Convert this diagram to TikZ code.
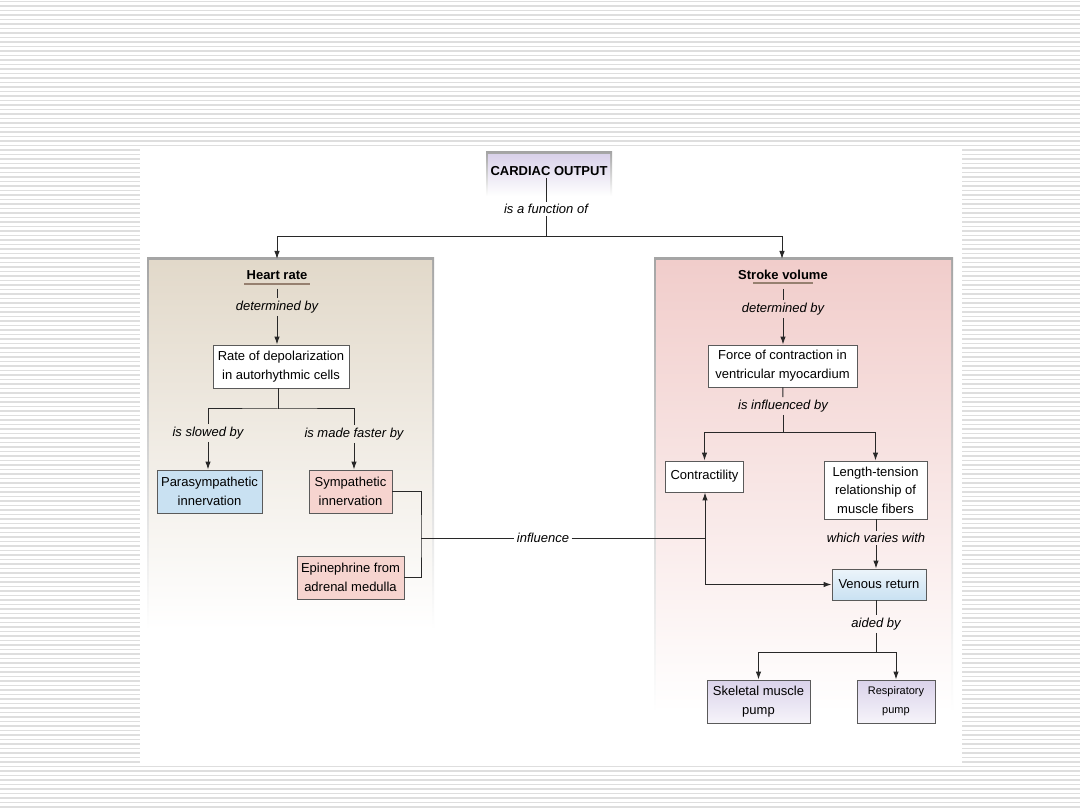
\documentclass[tikz,border=0pt]{standalone}
\usepackage{fontspec}
\setmainfont{Liberation Sans}
\usetikzlibrary{arrows.meta}

\definecolor{cardioLine}{RGB}{40,40,40}
\definecolor{cardioEdge}{RGB}{90,90,90}
\definecolor{cardioFrame}{RGB}{165,165,165}
\definecolor{cardioStripe}{RGB}{222,222,222}
\definecolor{cardioRateTint}{RGB}{226,217,202}
\definecolor{cardioStrokeTint}{RGB}{241,205,203}
\definecolor{cardioBlue}{RGB}{201,225,242}
\definecolor{cardioPink}{RGB}{246,212,207}
\definecolor{cardioLilac}{RGB}{218,210,234}
\definecolor{cardioUnder}{RGB}{150,128,112}

\begin{document}
\begin{tikzpicture}[x=1pt,y=-1pt,
    title/.style={font=\fontsize{13}{15}\selectfont\bfseries, inner sep=2pt},
    verb/.style={font=\fontsize{13}{15}\selectfont\itshape, inner sep=2.5pt},
    box/.style={draw=cardioEdge, line width=.9pt, align=center, inner sep=0pt,
      font=\fontsize{13}{19}\selectfont},
    plain/.style={box, fill=white},
    link/.style={draw=cardioLine, line width=1pt},
    arrow/.style={link, -{Latex[length=8pt,width=5.5pt]}},
    underline/.style={draw=cardioUnder, line width=1.6pt}]
    \useasboundingbox (0,0) rectangle (1080,810);

    \fill[white] (0,0) rectangle (1080,810);
    \foreach \y in {1.5,6,...,810}
      \draw[cardioStripe, line width=1.3pt] (0,\y) -- (1080,\y);
    \fill[white] (140,146) rectangle (962,764);

    \shade[top color=cardioFrame, bottom color=white] (147,258) rectangle (434,630);
    \shade[top color=cardioRateTint, middle color=cardioRateTint!65!white,
      bottom color=white] (149,261) rectangle (432,630);
    \shade[top color=cardioFrame, bottom color=white] (654,258) rectangle (953,712);
    \shade[top color=cardioStrokeTint, middle color=cardioStrokeTint!65!white,
      bottom color=white] (656,261) rectangle (951,712);
    \shade[top color=cardioFrame, bottom color=white] (486,152) rectangle (612,196);
    \shade[top color=cardioLilac, bottom color=white] (488,155) rectangle (610,196);

    \node[title] (co) at (549,171) {CARDIAC OUTPUT};
    \node[verb] (fn) at (546,209) {is a function of};
    \coordinate (split) at (546,237);
    \coordinate (hrtop) at (277,259);
    \coordinate (svtop) at (782,259);
    \draw[link] (co.south -| fn) -- (fn);
    \draw[link] (fn) -- (split);
    \draw[arrow] (split) -| (hrtop);
    \draw[arrow] (split) -| (svtop);

    \node[title] (hr) at (277,275) {Heart rate};
    \draw[underline] ([yshift=-2]hr.south west) -- ([yshift=-2]hr.south east);
    \node[verb] (det1) at (277,307) {determined by};
    \node[plain, minimum width=136, minimum height=43] (rate) at (281,366.5)
      {Rate of depolarization\\in autorhythmic cells};
    \coordinate (hrfork) at (278,409);
    \node[verb] (slow) at (208,433) {is slowed by};
    \node[verb] (fast) at (354,434) {is made faster by};
    \node[box, fill=cardioBlue, minimum width=105, minimum height=43] (para)
      at (209.5,491.5) {Parasympathetic\\innervation};
    \node[box, fill=cardioPink, minimum width=83, minimum height=43] (symp)
      at (350.5,491.5) {Sympathetic\\innervation};
    \node[box, fill=cardioPink, minimum width=107, minimum height=43] (epi)
      at (350.5,577.5) {Epinephrine from\\adrenal medulla};

    \draw[link, shorten <=7pt] (hr) -- (det1);
    \draw[arrow] (det1) -- (det1 |- rate.north);
    \draw[link] (rate.south -| hrfork) -- (hrfork);
    \draw[link] (slow) |- (hrfork) -| (fast);
    \draw[arrow] (slow) -- (slow |- para.north);
    \draw[arrow] (fast) -- (fast |- symp.north);

    \node[verb] (infl) at (543,538) {influence};
    \coordinate (bracket) at (421,538);
    \coordinate (cjoin) at (705,538);

    \node[title] (sv) at (783,275) {Stroke volume};
    \draw[underline] ([xshift=17,yshift=-1]sv.south west)
      -- ([xshift=-17,yshift=-1]sv.south east);
    \node[verb] (det2) at (783,309) {determined by};
    \node[plain, minimum width=149, minimum height=42] (force) at (782.5,366)
      {Force of contraction in\\ventricular myocardium};
    \node[verb] (inf2) at (783,406) {is influenced by};
    \coordinate (svfork) at (783,433);
    \node[plain, minimum width=78, minimum height=31] (contr) at (704.5,476.5)
      {Contractility};
    \node[plain, minimum width=103, minimum height=58,
      font=\fontsize{13}{18.5}\selectfont] (lt) at (875.5,490)
      {Length-tension\\relationship of\\muscle fibers};
    \node[verb] (vary) at (876,538) {which varies with};
    \node[box, top color=cardioBlue!35!white, bottom color=cardioBlue,
      minimum width=94, minimum height=31] (ven) at (879,584.5) {Venous return};
    \node[verb] (aid) at (876,624) {aided by};
    \coordinate (pumpfork) at (876,652);
    \node[box, top color=cardioLilac, bottom color=cardioLilac!25!white,
      minimum width=103, minimum height=43] (skel) at (758.5,701.5)
      {Skeletal muscle\\pump};
    \node[box, top color=cardioLilac, bottom color=cardioLilac!25!white,
      minimum width=78, minimum height=43, font=\fontsize{11}{19}\selectfont]
      (resp) at (896,701.5) {Respiratory\\pump};

    \draw[link] (symp.east) -| (bracket) |- (epi.east);
    \draw[link] (bracket) -- (infl);
    \draw[link] (infl) -- (cjoin);
    \draw[arrow] (cjoin) -- (cjoin |- contr.south);
    \draw[arrow] (cjoin) |- (ven);

    \draw[link, shorten <=7pt] (sv) -- (det2);
    \draw[arrow] (det2) -- (det2 |- force.north);
    \draw[link] (force) -- (inf2);
    \draw[link] (inf2) -- (svfork);
    \draw[arrow] (svfork) -| (contr);
    \draw[arrow] (svfork) -| (lt);
    \draw[link] (lt.south -| vary) -- (vary);
    \draw[arrow] (vary) -- (vary |- ven.north);
    \draw[link] (ven.south -| aid) -- (aid);
    \draw[link] (aid) -- (pumpfork);
    \draw[arrow] (pumpfork) -| (skel);
    \draw[arrow] (pumpfork) -| (resp);
  \end{tikzpicture}
\end{document}
